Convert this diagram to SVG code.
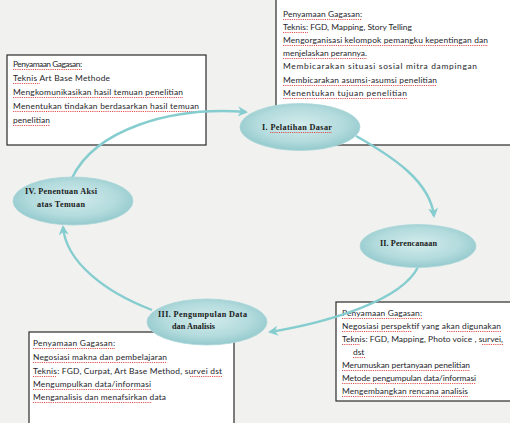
<svg xmlns="http://www.w3.org/2000/svg" width="510" height="423" viewBox="0 0 510 423">
<style>
.bg{fill:#f1f1ef}
.box{fill:#ffffff;stroke:#2a2a2a;stroke-width:1.2}
.t{font-family:Lato,"Liberation Sans",sans-serif;font-size:8.4px;fill:#1e1e2a}
.sq{fill:none;stroke:#e04040;stroke-width:0.9;stroke-dasharray:1.2 1}
.el{fill:url(#eg);stroke:#a9d6d8;stroke-width:0.8}
.lb{font-family:"Liberation Serif","Times New Roman",serif;font-weight:bold;font-size:8.2px;fill:#1a1a1a}
.c{fill:none;stroke:#86cdd0;stroke-width:2.4}
</style>
<defs>
<radialGradient id="eg" cx="0.5" cy="0.45" r="0.6">
<stop offset="0" stop-color="#d3ebec"/>
<stop offset="0.6" stop-color="#b3dbdd"/>
<stop offset="1" stop-color="#8cc5c9"/>
</radialGradient>
<marker id="ar" viewBox="0 0 10 10" refX="8" refY="5" markerWidth="4.2" markerHeight="4.2" orient="auto" markerUnits="strokeWidth">
<path d="M0,0 L10,5 L0,10 L3,5 Z" fill="#86cdd0"/>
</marker>
</defs>
<rect class="bg" x="0" y="0" width="510" height="423"/>

<g id="box-top-right">
<rect class="box" x="276" y="-2" width="240" height="147"/>
<text class="t" x="283" y="17" textLength="79" lengthAdjust="spacing">Penyamaan Gagasan:</text>
<text class="t" x="283" y="30">Teknis: FGD, Mapping, Story Telling</text>
<text class="t" x="283" y="43" textLength="205" lengthAdjust="spacing">Mengorganisasi kelompok pemangku kepentingan dan</text>
<text class="t" x="283" y="56" textLength="84" lengthAdjust="spacing">menjelaskan perannya.</text>
<text class="t" x="283" y="69" textLength="194" lengthAdjust="spacing">Membicarakan situasi sosial mitra dampingan</text>
<text class="t" x="283" y="83" textLength="154" lengthAdjust="spacing">Membicarakan asumsi-asumsi penelitian</text>
<text class="t" x="283" y="96" textLength="124" lengthAdjust="spacing">Menentukan tujuan penelitian</text>
<path class="sq" d="M283,19.5H362M283,32.5H308M283,45.5H488M283,58.5H367M283,85.5H437M283,98.5H407"/>
</g>

<g id="box-left">
<rect class="box" x="7" y="55" width="199" height="90"/>
<text class="t" x="13" y="67" textLength="69" lengthAdjust="spacing">Penyamaan Gagasan:</text>
<text class="t" x="13" y="81" textLength="97" lengthAdjust="spacing">Teknis Art Base Methode</text>
<text class="t" x="13" y="95" textLength="170" lengthAdjust="spacing">Mengkomunikasikan  hasil temuan penelitian</text>
<text class="t" x="13" y="109" textLength="186" lengthAdjust="spacing">Menentukan tindakan berdasarkan hasil  temuan</text>
<text class="t" x="13" y="123" textLength="37" lengthAdjust="spacing">penelitian</text>
<path class="sq" d="M13,69.5H82M13,83.5H40M13,97.5H183M13,111.5H199M13,125.5H50"/>
</g>

<g id="box-bottom-right">
<rect class="box" x="336" y="302" width="180" height="99"/>
<text class="t" x="342" y="316" textLength="80" lengthAdjust="spacing">Penyamaan Gagasan:</text>
<text class="t" x="342" y="329" textLength="159" lengthAdjust="spacing">Negosiasi perspektif yang akan digunakan</text>
<text class="t" x="342" y="342" textLength="161" lengthAdjust="spacing">Teknis: FGD, Mapping, Photo voice , survei,</text>
<text class="t" x="353" y="355">dst</text>
<text class="t" x="342" y="368" textLength="128" lengthAdjust="spacing">Merumuskan pertanyaan penelitian</text>
<text class="t" x="342" y="381" textLength="134" lengthAdjust="spacing">Metode pengumpulan data/informasi</text>
<text class="t" x="342" y="394" textLength="126" lengthAdjust="spacing">Mengembangkan rencana analisis</text>
<path class="sq" d="M342,318.5H422M342,331.5H412M447,331.5H501M342,344.5H360M482,344.5H503M353,357.5H365M342,370.5H470M342,383.5H476M342,396.5H468"/>
</g>

<g id="box-bottom-left">
<rect class="box" x="29" y="332" width="205" height="95"/>
<text class="t" x="33" y="346" textLength="82" lengthAdjust="spacing">Penyamaan Gagasan:</text>
<text class="t" x="33" y="360" textLength="134" lengthAdjust="spacing">Negosiasi makna dan pembelajaran</text>
<text class="t" x="33" y="374" textLength="189" lengthAdjust="spacing">Teknis: FGD, Curpat, Art Base Method, survei dst</text>
<text class="t" x="33" y="387" textLength="118" lengthAdjust="spacing">Mengumpulkan data/informasi</text>
<text class="t" x="33" y="400" textLength="133" lengthAdjust="spacing">Menganalisis dan menafsirkan data</text>
<path class="sq" d="M33,348.5H115M33,362.5H167M33,376.5H56M190,376.5H222M33,389.5H151M33,402.5H152"/>
</g>

<g id="connectors">
<path class="c" d="M72,178 C95,130 170,106 246,112" marker-end="url(#ar)"/>
<path class="c" d="M356,136 C395,158 430,182 434,216" marker-end="url(#ar)"/>
<path class="c" d="M418,267 C402,300 330,322 270,332" marker-end="url(#ar)"/>
<path class="c" d="M152,310 C105,292 66,262 63,227" marker-end="url(#ar)"/>
</g>

<g id="node-1">
<ellipse class="el" cx="300" cy="127" rx="60" ry="23.5"/>
<text class="lb" x="262" y="130" textLength="70" lengthAdjust="spacing">I. Pelatihan Dasar</text>
<path class="sq" d="M270,132.5H332"/>
</g>
<g id="node-2">
<ellipse class="el" cx="418" cy="246" rx="58" ry="21.5"/>
<text class="lb" x="380" y="246" textLength="57" lengthAdjust="spacing">II. Perencanaan</text>
</g>
<g id="node-3">
<ellipse class="el" cx="207" cy="322" rx="60" ry="23"/>
<text class="lb" x="158" y="317" textLength="89" lengthAdjust="spacing">III. Pengumpulan Data</text>
<text class="lb" x="172" y="329" textLength="43" lengthAdjust="spacing">dan Analisis</text>
</g>
<g id="node-4">
<ellipse class="el" cx="73" cy="201" rx="60" ry="24"/>
<text class="lb" x="25" y="194" textLength="72" lengthAdjust="spacing">IV. Penentuan Aksi</text>
<text class="lb" x="37" y="207" textLength="48" lengthAdjust="spacing">atas Temuan</text>
</g>
</svg>
